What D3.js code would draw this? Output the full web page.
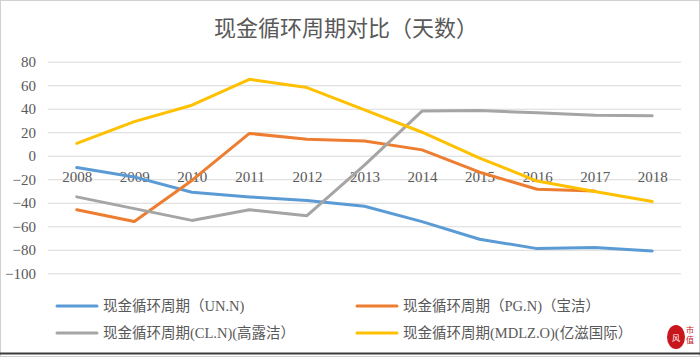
<!DOCTYPE html>
<html><head><meta charset="utf-8">
<script src="https://cdn.jsdelivr.net/npm/d3@7"></script>
<style>body{margin:0;background:#fff}svg{display:block}</style>
</head><body>
<svg id="c" width="700" height="357"></svg>
<script>
const years = ["2008","2009","2010","2011","2012","2013","2014","2015","2016","2017","2018"];
const unValues   = [-10, -18, -31, -35, -38, -43, -56, -71, -79, -78, -81];
const pgValues   = [-46, -56, -21, 19, 14, 12.5, 5, -14, -28.5, -30, null];
const clValues   = [-35, -45, -55, -46, -51, -8, 38, 38.5, 36.5, 34.5, 34];
const mdlzValues = [10.5, 29, 43, 65, 58, 39, 20, -2, -21.5, -30.5, -39];
const seriesNames = ["现金循环周期（UN.N)", "现金循环周期（PG.N)（宝洁）", "现金循环周期(CL.N)(高露洁）", "现金循环周期(MDLZ.O)(亿滋国际）"];
const seriesColors = ["#5B9BD5", "#ED7D31", "#A5A5A5", "#FFC000"];
const yTicks = [80, 60, 40, 20, 0, -20, -40, -60, -80, -100];
const chartTitle = "现金循环周期对比（天数）";

const series = [unValues, pgValues, clValues, mdlzValues];
const svg = d3.select("#c");
const W = 700, H = 357;
const pLeft = 48, pRight = 681, pTop = 61.7, pBottom = 273.3;

svg.append("rect").attr("x",0.5).attr("y",0.5).attr("width",W-1).attr("height",H-1)
  .attr("fill","#fff").attr("stroke","#d0d0d0");
svg.append("line").attr("x1",0).attr("x2",W).attr("y1",353.5).attr("y2",353.5)
  .attr("stroke","#3a3a3a").attr("stroke-width",2);

const x = d3.scalePoint().domain(years).range([pLeft, pRight]).padding(0.5);
const y = d3.scaleLinear().domain([-100, 80]).range([pBottom, pTop]);

const serif = "'Liberation Serif','Noto Sans CJK SC',serif";

svg.append("text").attr("x",346).attr("y",36).attr("text-anchor","middle")
  .attr("font-family","'Noto Sans CJK SC',sans-serif").attr("font-size",22)
  .attr("fill","#595959").text(chartTitle);

// grid + y labels
const ya = svg.append("g").attr("transform",`translate(${pLeft},0)`)
  .call(d3.axisLeft(y).tickValues(yTicks).tickSize(-(pRight-pLeft)).tickPadding(12).tickFormat(d3.format("d")));
ya.select(".domain").remove();
ya.selectAll(".tick line").attr("stroke","#d9d9d9").attr("stroke-width",1);
ya.selectAll(".tick text").attr("font-family",serif).attr("font-size",15).attr("fill","#595959");

// x labels at zero line
const xa = svg.append("g").attr("transform",`translate(0,${y(0)})`)
  .call(d3.axisBottom(x).tickSize(0).tickPadding(16));
xa.select(".domain").remove();
xa.selectAll(".tick text").attr("font-family",serif).attr("font-size",15).attr("fill","#595959");

const line = d3.line().defined(d => d != null).x((d,i) => x(years[i])).y(d => y(d));
series.forEach((s, k) => {
  svg.append("path").datum(s).attr("d", line).attr("fill","none")
    .attr("stroke", seriesColors[k]).attr("stroke-width",3)
    .attr("stroke-linejoin","round").attr("stroke-linecap","round");
});

// legend
const legPos = [[57,306],[357,306],[57,333],[357,333]];
[0,1,2,3].forEach((k, i) => {
  const [lx, ly] = legPos[i];
  svg.append("line").attr("x1",lx).attr("x2",lx+40).attr("y1",ly).attr("y2",ly)
    .attr("stroke",seriesColors[k]).attr("stroke-width",3).attr("stroke-linecap","round");
  svg.append("text").attr("x",lx+46).attr("y",ly+5).attr("font-family",serif)
    .attr("font-size",14.5).attr("fill","#595959").text(seriesNames[k]);
});

// logo seal
svg.append("ellipse").attr("cx",676).attr("cy",337).attr("rx",9).attr("ry",12).attr("fill","#c8161d");
svg.append("text").attr("x",676).attr("y",341).attr("text-anchor","middle")
  .attr("font-family","'Noto Sans CJK SC',sans-serif").attr("font-size",8).attr("fill","#fff").text("风");
svg.append("text").attr("x",690).attr("y",333).attr("text-anchor","middle")
  .attr("font-family","'Noto Sans CJK SC',sans-serif").attr("font-size",8).attr("fill","#c8161d").text("市");
svg.append("text").attr("x",690).attr("y",343).attr("text-anchor","middle")
  .attr("font-family","'Noto Sans CJK SC',sans-serif").attr("font-size",8).attr("fill","#c8161d").text("值");
</script>
</body></html>
